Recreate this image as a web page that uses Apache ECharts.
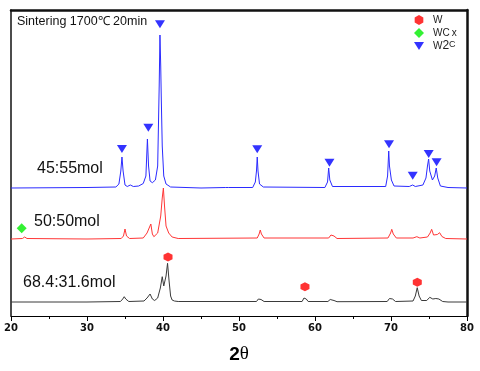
<!DOCTYPE html>
<html>
<head>
<meta charset="utf-8">
<script src="https://cdn.jsdelivr.net/npm/echarts@6/dist/echarts.min.js"></script>
<style>html,body{margin:0;padding:0;background:#fff}#c{width:480px;height:371px}</style>
</head>
<body>
<div id="c"></div>
<script>
// x ticks
const xTicks = [20, 30, 40, 50, 60, 70, 80];
// Series names / labels
const sampleNames = ["45:55mol", "50:50mol", "68.4:31.6mol"];
const phaseNames = ["W", "WCx", "W2C"];

// 45:55mol (blue) [2theta, intensity offset units]
const blue = [
 [20,128],[30,128.5],[33.8,129],[34.2,132],[34.45,145],[34.6,159],[34.75,145],[35.0,131],[35.3,129.5],
 [35.7,131],[36.1,129.5],[36.8,130],[37.4,132.5],[37.75,140],[37.95,177],[38.1,150],[38.3,135],[38.6,133.3],
 [39.0,136],[39.3,150],[39.5,230],[39.6,281],[39.7,250],[39.78,216],[39.9,170],[40.1,140],[40.4,132],[41.0,129],
 [45,128],[48.2,128.5],[48.4,130],[48.6,128.5],[51.8,128.5],[52.15,134],[52.3,145],[52.4,159],[52.5,145],[52.7,132],
 [53.2,129],[61.3,128.5],[61.65,134],[61.8,148],[61.95,136],[62.3,129.5],[69.3,129.5],[69.55,140],[69.7,165],
 [69.8,150],[69.9,148],[70.05,136],[70.4,130],[72.4,129.5],[72.85,131],[73.2,129.5],[74.2,131],[74.6,138],
 [74.8,150],[74.95,157],[75.1,145],[75.45,136],[75.75,140],[75.95,148],[76.15,138],[76.5,130],[77.5,128.5],[80,128]
];
// 50:50mol (red)
const red = [
 [20,77],[21.5,77.5],[21.8,79],[22.1,77.5],[30,77],[34.5,77.5],[34.8,80],[35.0,87],[35.2,80],[35.6,77.5],
 [37.4,78],[37.9,83],[38.4,92],[38.6,82],[38.8,79.3],[39.3,83],[39.7,100],[39.9,118],[40.05,128],[40.2,110],
 [40.4,90],[40.75,83],[41.2,79],[42,77.5],[52.4,78],[52.65,82],[52.8,86],[52.95,82],[53.3,78],
 [61.8,78],[62.1,81],[62.3,82.7],[62.5,80],[62.9,77.5],[69.6,78],[69.95,83],[70.1,86.7],[70.3,82],[70.7,78],
 [72.9,78],[73.4,79.3],[73.8,78],[74.8,79],[75.15,83],[75.35,86.7],[75.6,81],[75.8,79.3],[76.1,81.5],[76.4,83.3],
 [76.7,79.5],[77.2,77.5],[80,77]
];
// 68.4:31.6mol (black)
const black = [
 [20,14],[30,14],[34.4,14.5],[34.7,17],[34.9,19.3],[35.1,17],[35.5,14.5],[37.5,15],[37.9,18],[38.3,22],
 [38.6,17],[38.9,15.5],[39.3,18],[39.65,28],[39.9,39.3],[40.1,30],[40.2,28],[40.4,40],[40.6,52.7],[40.8,35],
 [41.0,20],[41.2,16],[41.5,15],[42,14.5],[52.3,14.5],[52.55,17],[52.7,18.7],[52.9,16.5],[53.3,14.5],
 [58.3,14.5],[58.55,18],[58.7,20],[58.85,17],[59.1,14.5],[61.7,14.5],[62.0,16.5],[62.2,17.7],[62.5,15.5],[62.9,14.3],
 [69.5,14.5],[69.8,17.5],[70.0,19.3],[70.2,17],[70.6,14.5],[72.9,15],[73.2,20],[73.45,28.3],[73.7,20],[74.0,15.5],
 [74.7,15.5],[75.1,18.7],[75.5,17],[75.9,17.5],[76.3,17],[76.8,14.5],[77.5,14],[80,14]
];
// Phase markers
const wMarks = [[40.66,59],[58.68,29.3],[73.46,33.7]];
const wcxMarks = [[21.41,87.7]];
const w2cMarks = [[34.6,167],[38.07,188.3],[39.6,291.7],[52.4,166.7],[61.9,153.3],[69.74,171.7],[72.86,140.3],[74.96,162],[76.0,153.7]];

const hexPath = 'path://M0,-10 L8.66,-5 L8.66,5 L0,10 L-8.66,5 L-8.66,-5 Z';
const diaPath = 'path://M0,-10 L10,0 L0,10 L-10,0 Z';
const triPath = 'path://M-10,0 L10,0 L0,16 Z';

const chart = echarts.init(document.getElementById('c'));
const FONT = 'Liberation Sans, Arial, sans-serif';
chart.setOption({
  animation: false,
  backgroundColor: '#fff',
  grid: { left: 11, right: 13, top: 10, bottom: 55, containLabel: false },
  xAxis: [{
    type: 'value', min: 20, max: 80, interval: 10,
    axisLine: { show: true, onZero: false, lineStyle: { color: '#000', width: 1 } },
    axisTick: { show: true, inside: false, length: 5, lineStyle: { color: '#000' } },
    minorTick: { show: true, splitNumber: 2, length: 3, lineStyle: { color: '#000' } },
    splitLine: { show: false },
    axisLabel: { margin: 7, color: '#111', fontSize: 10, fontWeight: 'bold', fontFamily: 'DejaVu Sans' },
    name: '{a|2}{b|θ}', nameLocation: 'middle', nameGap: 29,
    nameTextStyle: { rich: {
      a: { fontSize: 19, fontWeight: 'bold', fontFamily: FONT, color: '#000' },
      b: { fontSize: 19, fontFamily: 'Liberation Serif, serif', color: '#000' } } }
  }, {
    type: 'value', min: 20, max: 80, position: 'top',
    axisLine: { show: true, onZero: false, lineStyle: { color: '#111', width: 2.5 } },
    axisTick: { show: false }, axisLabel: { show: false }, splitLine: { show: false }
  }],
  yAxis: [{
    type: 'value', min: 0, max: 306, position: 'left',
    axisLine: { show: true, onZero: false, lineStyle: { color: '#111', width: 1.5 } },
    axisTick: { show: false }, axisLabel: { show: false }, splitLine: { show: false }
  }, {
    type: 'value', min: 0, max: 306, position: 'right',
    axisLine: { show: true, onZero: false, lineStyle: { color: '#111', width: 2.5 } },
    axisTick: { show: false }, axisLabel: { show: false }, splitLine: { show: false }
  }],
  legend: {
    orient: 'vertical', left: 414, top: 14, padding: 0,
    itemWidth: 10, itemHeight: 10, itemGap: 1,
    data: phaseNames,
    formatter: function (n) { return n === 'W2C' ? '{n|W}{s|2}{c|C}' : (n === 'WCx' ? '{n|WC}{x|x}' : '{n|' + n + '}'); },
    textStyle: { fontSize: 10, color: '#222', padding: [0,0,0,4], lineHeight: 12,
      rich: {
        n: { fontSize: 10, fontFamily: FONT, color: '#222', lineHeight: 12 },
        x: { fontSize: 10, fontFamily: FONT, color: '#222', lineHeight: 12, padding: [0,0,0,2] },
        s: { fontSize: 12, fontFamily: FONT, color: '#222', lineHeight: 12, verticalAlign: 'bottom' },
        c: { fontSize: 9, fontFamily: FONT, color: '#222', lineHeight: 12, verticalAlign: 'top' }
      } }
  },
  series: [
    { name: sampleNames[2], type: 'line', data: black, showSymbol: false, symbol: 'none', lineStyle: { color: '#3a3a3a', width: 1 }, z: 2 },
    { name: sampleNames[1], type: 'line', data: red, showSymbol: false, symbol: 'none', lineStyle: { color: '#ff3636', width: 1 }, z: 3 },
    { name: sampleNames[0], type: 'line', data: blue, showSymbol: false, symbol: 'none', lineStyle: { color: '#2b2bff', width: 1 }, z: 4 },
    { name: 'W', type: 'scatter', data: wMarks, symbol: hexPath, symbolSize: [9, 9], itemStyle: { color: '#ff0000' }, z: 5 },
    { name: 'WCx', type: 'scatter', data: wcxMarks, symbol: diaPath, symbolSize: [10, 10], itemStyle: { color: '#00ee00' }, z: 5 },
    { name: 'W2C', type: 'scatter', data: w2cMarks, symbol: triPath, symbolSize: [10, 8], itemStyle: { color: '#0000ff' }, z: 5 }
  ],
  graphic: [
    { type: 'text', left: 17, top: 15, style: { text: 'Sintering 1700℃ 20min', fontSize: 12.5, fontFamily: FONT, fill: '#111' } },
    { type: 'text', left: 37, top: 161, style: { text: sampleNames[0], fontSize: 16, fontFamily: FONT, fill: '#111' } },
    { type: 'text', left: 34, top: 214, style: { text: sampleNames[1], fontSize: 16, fontFamily: FONT, fill: '#111' } },
    { type: 'text', left: 23, top: 275, style: { text: sampleNames[2], fontSize: 16, fontFamily: FONT, fill: '#111' } }
  ]
});
</script>
</body>
</html>
